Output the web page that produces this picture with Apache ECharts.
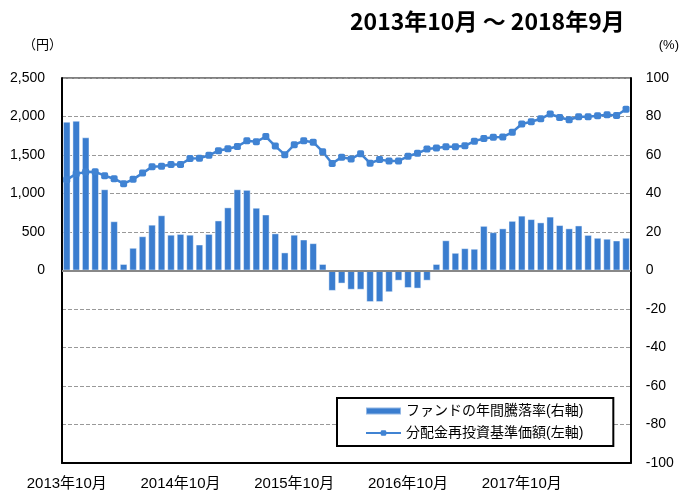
<!DOCTYPE html>
<html><head><meta charset="utf-8">
<script src="https://cdn.jsdelivr.net/npm/echarts@6/dist/echarts.min.js"></script>
<style>html,body{margin:0;padding:0;background:#fff}#c{width:682px;height:491px}</style>
</head><body><div id="c"></div>
<script>
// Categories: monthly, 2013年10月 .. 2018年9月
const months = [];
for (let i = 0; i < 60; i++) {
  const y = 2013 + Math.floor((9 + i) / 12);
  const m = ((9 + i) % 12) + 1;
  months.push(y + '年' + m + '月');
}
// ファンドの年間騰落率 (%), right axis
const fundReturn = [
  77.3, 77.8, 69.2, 51.6, 42.2, 25.6, 3.4, 11.8, 17.8, 23.8,
  28.7, 18.6, 19.0, 18.6, 13.5, 19.0, 26.0, 32.8, 42.2, 41.9,
  32.6, 29.1, 19.3, 9.4, 18.6, 16.1, 14.2, 3.4, -10.6, -6.8,
  -10.0, -10.0, -16.4, -16.4, -11.3, -5.3, -9.1, -9.4, -5.3, 3.4,
  15.7, 9.2, 11.6, 11.3, 23.2, 19.9, 21.9, 25.8, 28.5, 26.7,
  25.0, 28.0, 23.6, 21.9, 23.4, 18.5, 17.0, 16.5, 15.6, 17.0
];
// 分配金再投資基準価額 (円), left axis
const navReinvested = [
  1180, 1255, 1280, 1282, 1231, 1192, 1128, 1184, 1265, 1346,
  1355, 1376, 1376, 1453, 1457, 1496, 1556, 1581, 1611, 1684,
  1671, 1740, 1616, 1504, 1633, 1684, 1667, 1543, 1389, 1472,
  1449, 1517, 1393, 1440, 1423, 1423, 1483, 1522, 1577, 1590,
  1607, 1607, 1620, 1680, 1714, 1731, 1735, 1795, 1902, 1932,
  1970, 2034, 1987, 1957, 1996, 1996, 2009, 2022, 2013, 2094
];
const titleText = '2013年10月 ～ 2018年9月';
const barName = 'ファンドの年間騰落率(右軸)';
const lineName = '分配金再投資基準価額(左軸)';

const FONT = "'Liberation Sans','Noto Sans CJK JP',sans-serif";
const chart = echarts.init(document.getElementById('c'), null, {renderer: 'canvas'});
chart.setOption({
  animation: false,
  title: {
    text: titleText, left: 345, top: 5,
    textStyle: {fontSize: 23, fontWeight: 'bold', color: '#000',
      fontFamily: "'Liberation Sans Narrow','Noto Sans CJK JP',sans-serif"}
  },
  grid: {left: 62, right: 47, top: 78, bottom: 26, show: true, borderColor: '#000', borderWidth: 1, backgroundColor: 'transparent'},
  legend: {
    orient: 'vertical', left: 337, top: 398, padding: [6, 30, 6, 28], itemGap: 8,
    itemWidth: 35, itemHeight: 7, borderColor: '#000', borderWidth: 2, backgroundColor: '#fff',
    textStyle: {fontSize: 14, color: '#000', fontFamily: FONT},
    data: [{name: barName, icon: 'rect'}, {name: lineName}]
  },
  xAxis: {
    type: 'category', data: months,
    axisLine: {onZero: false, lineStyle: {color: '#000', width: 2}},
    axisTick: {show: false},
    axisLabel: {interval: 11, color: '#000', fontSize: 15, margin: 13, fontFamily: FONT},
    splitLine: {show: false}
  },
  yAxis: [
    {
      type: 'value', min: -2500, max: 2500, interval: 500,
      name: '（円）', nameLocation: 'end', nameGap: 26,
      nameTextStyle: {align: 'right', color: '#000', fontSize: 13, fontFamily: FONT, padding: [0, 0, 0, 0]},
      axisLine: {show: true, lineStyle: {color: '#000', width: 2}},
      axisTick: {show: false},
      axisLabel: {margin: 17, fontSize: 14, color: '#000', fontFamily: FONT,
        formatter: v => v >= 0 ? v.toLocaleString('en-US') : ''},
      splitLine: {show: false}
    },
    {
      type: 'value', min: -100, max: 100, interval: 20, position: 'right',
      name: '(%)', nameLocation: 'end', nameGap: 26,
      nameTextStyle: {align: 'left', color: '#000', fontSize: 13, fontFamily: FONT, padding: [0, 0, 0, 28]},
      axisLine: {show: true, lineStyle: {color: '#000', width: 2}},
      axisTick: {show: false},
      axisLabel: {margin: 15, fontSize: 14, color: '#000', fontFamily: FONT},
      splitLine: {show: true, lineStyle: {type: 'dashed', color: '#999', width: 1}}
    }
  ],
  series: [
    {
      name: barName, type: 'bar', yAxisIndex: 1, data: fundReturn,
      barCategoryGap: '20%',
      itemStyle: {color: '#3a7dcf', borderColor: 'rgba(255,255,255,0.45)', borderWidth: 1},
      markLine: {silent: true, symbol: 'none', label: {show: false},
        lineStyle: {color: '#888', width: 2, type: 'solid'}, data: [{yAxis: 0}]}
    },
    {
      name: lineName, type: 'line', yAxisIndex: 0, data: navReinvested,
      symbol: 'roundRect', symbolSize: 7, showSymbol: true, showAllSymbol: true,
      lineStyle: {width: 2.5, color: '#4083d3'}, itemStyle: {color: '#4083d3'}, z: 3
    }
  ]
});
</script></body></html>
